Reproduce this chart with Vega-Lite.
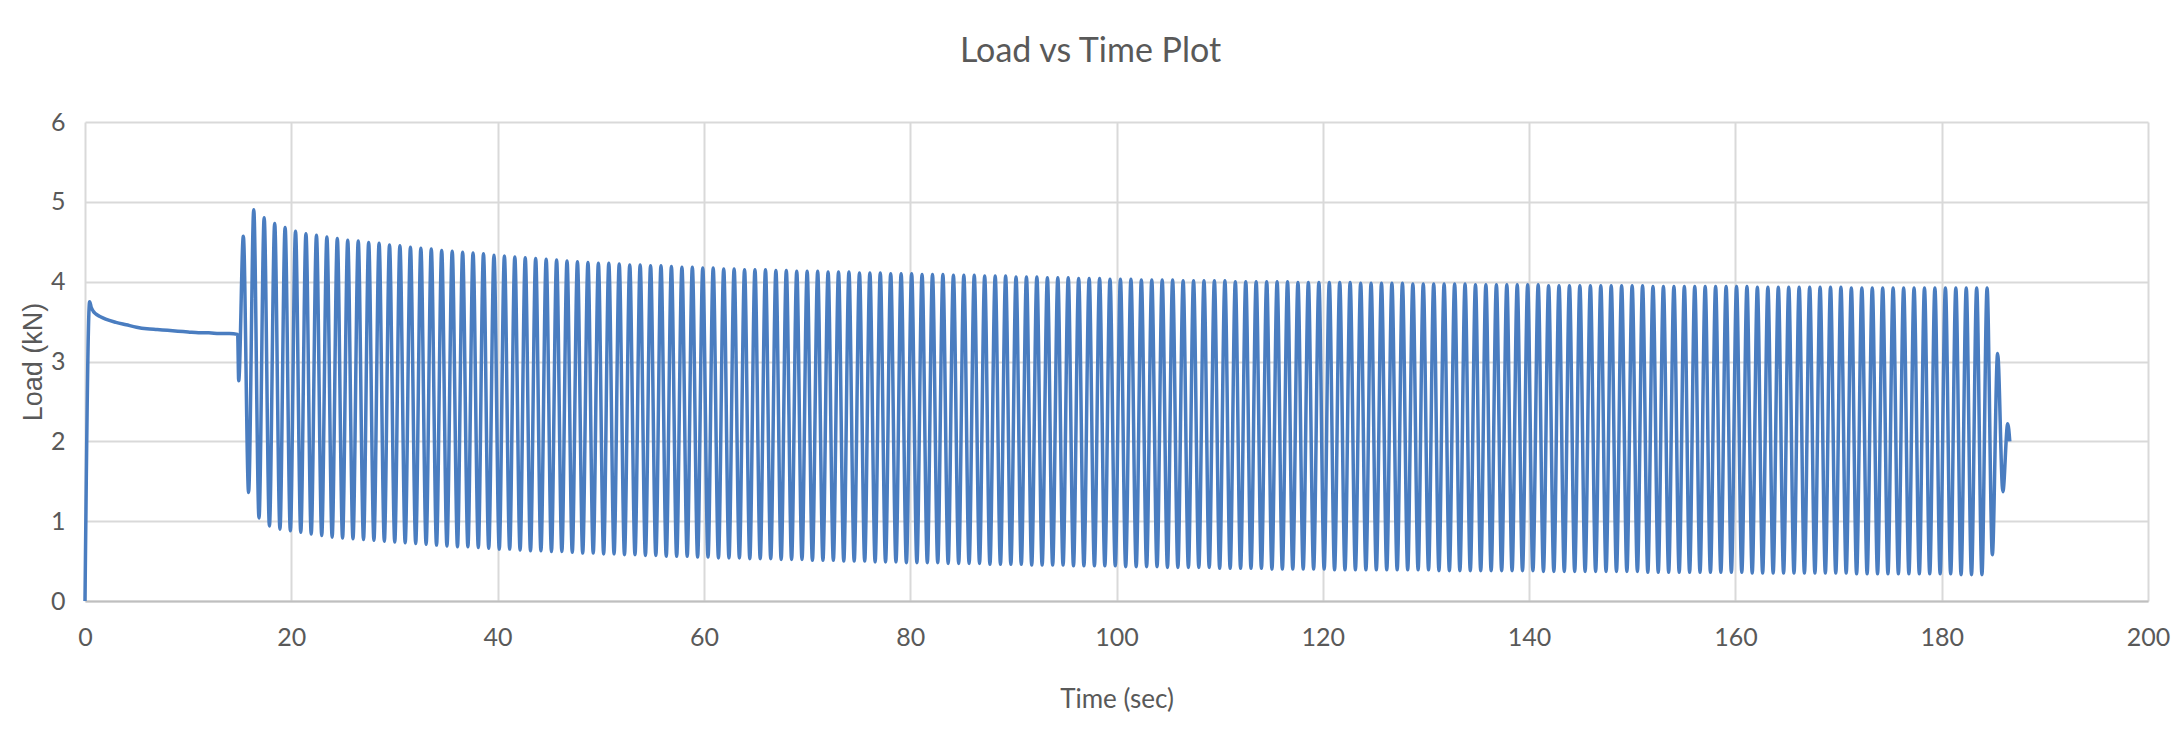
{
  "$schema": "https://vega.github.io/schema/vega-lite/v6.json",
  "width": 2063,
  "height": 479,
  "autosize": {"type": "none"},
  "padding": {"left": 85, "top": 122, "right": 32, "bottom": 143},
  "background": "white",
  "title": {
    "text": "Load vs Time Plot",
    "font": "Lato",
    "fontSize": 34,
    "fontWeight": "normal",
    "color": "#595959",
    "anchor": "middle",
    "offset": 41,
    "dx": -26
  },
  "config": {
    "view": {"stroke": null},
    "axis": {
      "labelFont": "Lato",
      "titleFont": "Lato",
      "labelColor": "#595959",
      "titleColor": "#595959",
      "titleFontWeight": "normal",
      "gridColor": "#d9d9d9",
      "gridWidth": 2,
      "ticks": false
    }
  },
  "data": {
    "values": [
      {"t": 0, "v": 0}, {"t": 0.45, "v": 3.75}, {"t": 0.6, "v": 3.68}, {"t": 0.8, "v": 3.63}, {"t": 1, "v": 3.6}, {"t": 1.5, "v": 3.56}, {"t": 2, "v": 3.53}, {"t": 3, "v": 3.49}, {"t": 4, "v": 3.46}, {"t": 5, "v": 3.43}, {"t": 6, "v": 3.41}, {"t": 7, "v": 3.4}, {"t": 8, "v": 3.39}, {"t": 9, "v": 3.38}, {"t": 10, "v": 3.37}, {"t": 11, "v": 3.36}, {"t": 12, "v": 3.36}, {"t": 13, "v": 3.35}, {"t": 14, "v": 3.35}, {"t": 14.8, "v": 3.34}, {"t": 14.9, "v": 2.76},
      {"t": 15.35, "v": 4.57}, {"t": 15.86, "v": 1.36},
      {"t": 16.36, "v": 4.9}, {"t": 16.87, "v": 1.04},
      {"t": 17.37, "v": 4.8}, {"t": 17.88, "v": 0.94},
      {"t": 18.39, "v": 4.73}, {"t": 18.9, "v": 0.9},
      {"t": 19.4, "v": 4.68}, {"t": 19.91, "v": 0.88},
      {"t": 20.41, "v": 4.63}, {"t": 20.92, "v": 0.86},
      {"t": 21.42, "v": 4.6}, {"t": 21.93, "v": 0.84},
      {"t": 22.44, "v": 4.58}, {"t": 22.95, "v": 0.82},
      {"t": 23.45, "v": 4.56}, {"t": 23.96, "v": 0.8},
      {"t": 24.46, "v": 4.54}, {"t": 24.97, "v": 0.79},
      {"t": 25.47, "v": 4.52}, {"t": 25.98, "v": 0.78},
      {"t": 26.49, "v": 4.51}, {"t": 27.0, "v": 0.77},
      {"t": 27.5, "v": 4.49}, {"t": 28.01, "v": 0.76},
      {"t": 28.51, "v": 4.48}, {"t": 29.02, "v": 0.75},
      {"t": 29.52, "v": 4.46}, {"t": 30.03, "v": 0.74},
      {"t": 30.53, "v": 4.45}, {"t": 31.04, "v": 0.73},
      {"t": 31.55, "v": 4.43}, {"t": 32.06, "v": 0.72},
      {"t": 32.56, "v": 4.42}, {"t": 33.07, "v": 0.71},
      {"t": 33.57, "v": 4.41}, {"t": 34.08, "v": 0.7},
      {"t": 34.58, "v": 4.39}, {"t": 35.09, "v": 0.69},
      {"t": 35.6, "v": 4.38}, {"t": 36.11, "v": 0.68},
      {"t": 36.61, "v": 4.37}, {"t": 37.12, "v": 0.68},
      {"t": 37.62, "v": 4.36}, {"t": 38.13, "v": 0.67},
      {"t": 38.63, "v": 4.35}, {"t": 39.14, "v": 0.66},
      {"t": 39.65, "v": 4.33}, {"t": 40.16, "v": 0.65},
      {"t": 40.66, "v": 4.32}, {"t": 41.17, "v": 0.65},
      {"t": 41.67, "v": 4.31}, {"t": 42.18, "v": 0.64},
      {"t": 42.68, "v": 4.3}, {"t": 43.19, "v": 0.63},
      {"t": 43.69, "v": 4.29}, {"t": 44.2, "v": 0.63},
      {"t": 44.71, "v": 4.28}, {"t": 45.22, "v": 0.62},
      {"t": 45.72, "v": 4.27}, {"t": 46.23, "v": 0.62},
      {"t": 46.73, "v": 4.26}, {"t": 47.24, "v": 0.61},
      {"t": 47.74, "v": 4.25}, {"t": 48.25, "v": 0.6},
      {"t": 48.76, "v": 4.24}, {"t": 49.27, "v": 0.6},
      {"t": 49.77, "v": 4.23}, {"t": 50.28, "v": 0.59},
      {"t": 50.78, "v": 4.23}, {"t": 51.29, "v": 0.59},
      {"t": 51.79, "v": 4.22}, {"t": 52.3, "v": 0.58},
      {"t": 52.81, "v": 4.21}, {"t": 53.32, "v": 0.58},
      {"t": 53.82, "v": 4.21}, {"t": 54.33, "v": 0.57},
      {"t": 54.83, "v": 4.2}, {"t": 55.34, "v": 0.57},
      {"t": 55.84, "v": 4.2}, {"t": 56.35, "v": 0.56},
      {"t": 56.85, "v": 4.19}, {"t": 57.36, "v": 0.56},
      {"t": 57.87, "v": 4.18}, {"t": 58.38, "v": 0.56},
      {"t": 58.88, "v": 4.18}, {"t": 59.39, "v": 0.55},
      {"t": 59.89, "v": 4.17}, {"t": 60.4, "v": 0.55},
      {"t": 60.9, "v": 4.17}, {"t": 61.41, "v": 0.54},
      {"t": 61.92, "v": 4.16}, {"t": 62.43, "v": 0.54},
      {"t": 62.93, "v": 4.16}, {"t": 63.44, "v": 0.54},
      {"t": 63.94, "v": 4.15}, {"t": 64.45, "v": 0.53},
      {"t": 64.95, "v": 4.15}, {"t": 65.46, "v": 0.53},
      {"t": 65.97, "v": 4.15}, {"t": 66.48, "v": 0.53},
      {"t": 66.98, "v": 4.14}, {"t": 67.49, "v": 0.52},
      {"t": 67.99, "v": 4.14}, {"t": 68.5, "v": 0.52},
      {"t": 69.0, "v": 4.13}, {"t": 69.51, "v": 0.52},
      {"t": 70.01, "v": 4.13}, {"t": 70.52, "v": 0.51},
      {"t": 71.03, "v": 4.13}, {"t": 71.54, "v": 0.51},
      {"t": 72.04, "v": 4.12}, {"t": 72.55, "v": 0.51},
      {"t": 73.05, "v": 4.12}, {"t": 73.56, "v": 0.5},
      {"t": 74.06, "v": 4.12}, {"t": 74.57, "v": 0.5},
      {"t": 75.08, "v": 4.11}, {"t": 75.59, "v": 0.5},
      {"t": 76.09, "v": 4.11}, {"t": 76.6, "v": 0.49},
      {"t": 77.1, "v": 4.11}, {"t": 77.61, "v": 0.49},
      {"t": 78.11, "v": 4.1}, {"t": 78.62, "v": 0.49},
      {"t": 79.12, "v": 4.1}, {"t": 79.63, "v": 0.48},
      {"t": 80.14, "v": 4.1}, {"t": 80.65, "v": 0.48},
      {"t": 81.15, "v": 4.09}, {"t": 81.66, "v": 0.48},
      {"t": 82.16, "v": 4.09}, {"t": 82.67, "v": 0.48},
      {"t": 83.17, "v": 4.09}, {"t": 83.68, "v": 0.47},
      {"t": 84.19, "v": 4.08}, {"t": 84.7, "v": 0.47},
      {"t": 85.2, "v": 4.08}, {"t": 85.71, "v": 0.47},
      {"t": 86.21, "v": 4.08}, {"t": 86.72, "v": 0.47},
      {"t": 87.22, "v": 4.07}, {"t": 87.73, "v": 0.46},
      {"t": 88.24, "v": 4.07}, {"t": 88.75, "v": 0.46},
      {"t": 89.25, "v": 4.07}, {"t": 89.76, "v": 0.46},
      {"t": 90.26, "v": 4.06}, {"t": 90.77, "v": 0.46},
      {"t": 91.27, "v": 4.06}, {"t": 91.78, "v": 0.45},
      {"t": 92.28, "v": 4.06}, {"t": 92.79, "v": 0.45},
      {"t": 93.3, "v": 4.05}, {"t": 93.81, "v": 0.45},
      {"t": 94.31, "v": 4.05}, {"t": 94.82, "v": 0.45},
      {"t": 95.32, "v": 4.05}, {"t": 95.83, "v": 0.44},
      {"t": 96.33, "v": 4.04}, {"t": 96.84, "v": 0.44},
      {"t": 97.35, "v": 4.04}, {"t": 97.86, "v": 0.44},
      {"t": 98.36, "v": 4.04}, {"t": 98.87, "v": 0.44},
      {"t": 99.37, "v": 4.03}, {"t": 99.88, "v": 0.44},
      {"t": 100.38, "v": 4.03}, {"t": 100.89, "v": 0.43},
      {"t": 101.4, "v": 4.03}, {"t": 101.91, "v": 0.43},
      {"t": 102.41, "v": 4.02}, {"t": 102.92, "v": 0.43},
      {"t": 103.42, "v": 4.02}, {"t": 103.93, "v": 0.43},
      {"t": 104.43, "v": 4.02}, {"t": 104.94, "v": 0.42},
      {"t": 105.44, "v": 4.02}, {"t": 105.95, "v": 0.42},
      {"t": 106.46, "v": 4.01}, {"t": 106.97, "v": 0.42},
      {"t": 107.47, "v": 4.01}, {"t": 107.98, "v": 0.42},
      {"t": 108.48, "v": 4.01}, {"t": 108.99, "v": 0.42},
      {"t": 109.49, "v": 4.01}, {"t": 110.0, "v": 0.41},
      {"t": 110.51, "v": 4.01}, {"t": 111.02, "v": 0.41},
      {"t": 111.52, "v": 4.0}, {"t": 112.03, "v": 0.41},
      {"t": 112.53, "v": 4.0}, {"t": 113.04, "v": 0.41},
      {"t": 113.54, "v": 4.0}, {"t": 114.05, "v": 0.41},
      {"t": 114.56, "v": 4.0}, {"t": 115.07, "v": 0.4},
      {"t": 115.57, "v": 4.0}, {"t": 116.08, "v": 0.4},
      {"t": 116.58, "v": 4.0}, {"t": 117.09, "v": 0.4},
      {"t": 117.59, "v": 3.99}, {"t": 118.1, "v": 0.4},
      {"t": 118.6, "v": 3.99}, {"t": 119.11, "v": 0.4},
      {"t": 119.62, "v": 3.99}, {"t": 120.13, "v": 0.4},
      {"t": 120.63, "v": 3.99}, {"t": 121.14, "v": 0.39},
      {"t": 121.64, "v": 3.99}, {"t": 122.15, "v": 0.39},
      {"t": 122.65, "v": 3.99}, {"t": 123.16, "v": 0.39},
      {"t": 123.67, "v": 3.98}, {"t": 124.18, "v": 0.39},
      {"t": 124.68, "v": 3.98}, {"t": 125.19, "v": 0.39},
      {"t": 125.69, "v": 3.98}, {"t": 126.2, "v": 0.39},
      {"t": 126.7, "v": 3.98}, {"t": 127.21, "v": 0.39},
      {"t": 127.72, "v": 3.98}, {"t": 128.23, "v": 0.39},
      {"t": 128.73, "v": 3.97}, {"t": 129.24, "v": 0.39},
      {"t": 129.74, "v": 3.97}, {"t": 130.25, "v": 0.39},
      {"t": 130.75, "v": 3.97}, {"t": 131.26, "v": 0.38},
      {"t": 131.76, "v": 3.97}, {"t": 132.27, "v": 0.38},
      {"t": 132.78, "v": 3.97}, {"t": 133.29, "v": 0.38},
      {"t": 133.79, "v": 3.97}, {"t": 134.3, "v": 0.38},
      {"t": 134.8, "v": 3.96}, {"t": 135.31, "v": 0.38},
      {"t": 135.81, "v": 3.96}, {"t": 136.32, "v": 0.38},
      {"t": 136.83, "v": 3.96}, {"t": 137.34, "v": 0.38},
      {"t": 137.84, "v": 3.96}, {"t": 138.35, "v": 0.38},
      {"t": 138.85, "v": 3.96}, {"t": 139.36, "v": 0.38},
      {"t": 139.86, "v": 3.96}, {"t": 140.37, "v": 0.38},
      {"t": 140.88, "v": 3.96}, {"t": 141.39, "v": 0.37},
      {"t": 141.89, "v": 3.95}, {"t": 142.4, "v": 0.37},
      {"t": 142.9, "v": 3.95}, {"t": 143.41, "v": 0.37},
      {"t": 143.91, "v": 3.95}, {"t": 144.42, "v": 0.37},
      {"t": 144.92, "v": 3.95}, {"t": 145.43, "v": 0.37},
      {"t": 145.94, "v": 3.95}, {"t": 146.45, "v": 0.37},
      {"t": 146.95, "v": 3.95}, {"t": 147.46, "v": 0.37},
      {"t": 147.96, "v": 3.95}, {"t": 148.47, "v": 0.37},
      {"t": 148.97, "v": 3.95}, {"t": 149.48, "v": 0.37},
      {"t": 149.99, "v": 3.95}, {"t": 150.5, "v": 0.37},
      {"t": 151.0, "v": 3.95}, {"t": 151.51, "v": 0.36},
      {"t": 152.01, "v": 3.94}, {"t": 152.52, "v": 0.36},
      {"t": 153.02, "v": 3.94}, {"t": 153.53, "v": 0.36},
      {"t": 154.04, "v": 3.94}, {"t": 154.55, "v": 0.36},
      {"t": 155.05, "v": 3.94}, {"t": 155.56, "v": 0.36},
      {"t": 156.06, "v": 3.94}, {"t": 156.57, "v": 0.36},
      {"t": 157.07, "v": 3.94}, {"t": 157.58, "v": 0.36},
      {"t": 158.08, "v": 3.94}, {"t": 158.59, "v": 0.36},
      {"t": 159.1, "v": 3.94}, {"t": 159.61, "v": 0.36},
      {"t": 160.11, "v": 3.94}, {"t": 160.62, "v": 0.36},
      {"t": 161.12, "v": 3.94}, {"t": 161.63, "v": 0.35},
      {"t": 162.13, "v": 3.93}, {"t": 162.64, "v": 0.35},
      {"t": 163.15, "v": 3.93}, {"t": 163.66, "v": 0.35},
      {"t": 164.16, "v": 3.93}, {"t": 164.67, "v": 0.35},
      {"t": 165.17, "v": 3.93}, {"t": 165.68, "v": 0.35},
      {"t": 166.18, "v": 3.93}, {"t": 166.69, "v": 0.35},
      {"t": 167.2, "v": 3.93}, {"t": 167.71, "v": 0.35},
      {"t": 168.21, "v": 3.93}, {"t": 168.72, "v": 0.35},
      {"t": 169.22, "v": 3.93}, {"t": 169.73, "v": 0.35},
      {"t": 170.23, "v": 3.93}, {"t": 170.74, "v": 0.35},
      {"t": 171.24, "v": 3.92}, {"t": 171.75, "v": 0.34},
      {"t": 172.26, "v": 3.92}, {"t": 172.77, "v": 0.34},
      {"t": 173.27, "v": 3.92}, {"t": 173.78, "v": 0.34},
      {"t": 174.28, "v": 3.92}, {"t": 174.79, "v": 0.34},
      {"t": 175.29, "v": 3.92}, {"t": 175.8, "v": 0.34},
      {"t": 176.31, "v": 3.92}, {"t": 176.82, "v": 0.34},
      {"t": 177.32, "v": 3.92}, {"t": 177.83, "v": 0.34},
      {"t": 178.33, "v": 3.92}, {"t": 178.84, "v": 0.34},
      {"t": 179.34, "v": 3.92}, {"t": 179.85, "v": 0.34},
      {"t": 180.36, "v": 3.92}, {"t": 180.87, "v": 0.34},
      {"t": 181.37, "v": 3.92}, {"t": 181.88, "v": 0.33},
      {"t": 182.38, "v": 3.92}, {"t": 182.89, "v": 0.33},
      {"t": 183.39, "v": 3.92}, {"t": 183.9, "v": 0.33},
      {"t": 184.4, "v": 3.92}, {"t": 184.91, "v": 0.58},
      {"t": 185.42, "v": 3.1}, {"t": 185.93, "v": 1.37},
      {"t": 186.4, "v": 2.22}, {"t": 186.6, "v": 2.0}
    ]
  },
  "mark": {"type": "line", "color": "#4a7dc0", "strokeWidth": 3.5, "interpolate": "monotone"},
  "encoding": {
    "x": {
      "field": "t",
      "type": "quantitative",
      "title": "Time (sec)",
      "scale": {"domain": [0, 200], "nice": false},
      "axis": {
        "values": [0, 20, 40, 60, 80, 100, 120, 140, 160, 180, 200],
        "labelFontSize": 25,
        "titleFontSize": 26,
        "labelPadding": 24,
        "titlePadding": 36,
        "domainColor": "#bfbfbf",
        "domainWidth": 2,
        "labelFlush": false
      }
    },
    "y": {
      "field": "v",
      "type": "quantitative",
      "title": "Load (kN)",
      "scale": {"domain": [0, 6], "nice": false},
      "axis": {
        "values": [0, 1, 2, 3, 4, 5, 6],
        "labelFontSize": 25,
        "titleFont": "Liberation Sans",
        "titleFontSize": 27,
        "labelPadding": 20,
        "titlePadding": 3,
        "domain": false,
        "labelFlush": false
      }
    }
  }
}
